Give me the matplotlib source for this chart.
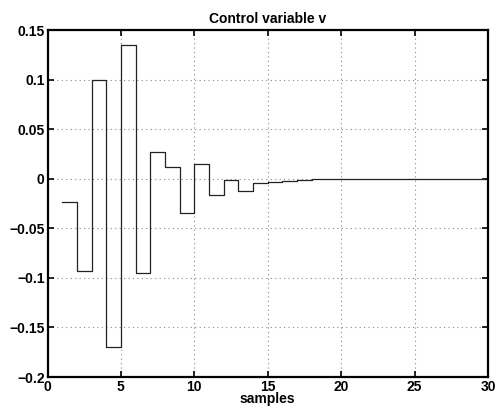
import matplotlib
matplotlib.use("Agg")
import matplotlib.pyplot as plt
import numpy as np

samples = list(range(1, 31))
v = [-0.0238, -0.0933, 0.1000, -0.1700, 0.1345, -0.0950, 0.0272, 0.0114,
     -0.0342, 0.0148, -0.0168, -0.0015, -0.0127, -0.0043, -0.0037, -0.0020,
     -0.0010, -0.0005, -0.0003, -0.0002, -0.0001, 0.0, 0.0, 0.0, 0.0,
     0.0, 0.0, 0.0, 0.0, 0.0]
xticks = [0, 5, 10, 15, 20, 25, 30]
yticks = [-0.2, -0.15, -0.1, -0.05, 0, 0.05, 0.1, 0.15]
yticklabels = ["\u22120.2", "\u22120.15", "\u22120.1", "\u22120.05", "0", "0.05", "0.1", "0.15"]

plt.rcParams['font.family'] = ['Liberation Sans', 'DejaVu Sans']
plt.rcParams['font.weight'] = 'bold'

fig = plt.figure(figsize=(4.96, 4.11), dpi=100)
ax = fig.add_axes([47.5/496, 1 - 377/411, (488 - 47.5)/496, (377 - 30)/411])

ax.step(samples, v, where='post', color='#222222', linewidth=0.9)

ax.set_xlim(0, 30)
ax.set_ylim(-0.2, 0.15)
ax.set_xticks(xticks)
ax.set_xticklabels([str(t) for t in xticks], fontsize=10, fontweight='bold')
ax.set_yticks(yticks)
ax.set_yticklabels(yticklabels, fontsize=10, fontweight='bold')
ax.tick_params(direction='in', top=True, right=True, length=4, width=1.2, pad=2)
ax.grid(True, linestyle=(0, (1, 3)), color='#888888', linewidth=0.8)
for s in ax.spines.values():
    s.set_linewidth(1.6)

ax.set_title("Control variable v", fontsize=10, fontweight='bold', pad=5)
ax.set_xlabel("samples", fontsize=10, fontweight='bold', labelpad=-1)

fig.savefig("out.png", dpi=100)
